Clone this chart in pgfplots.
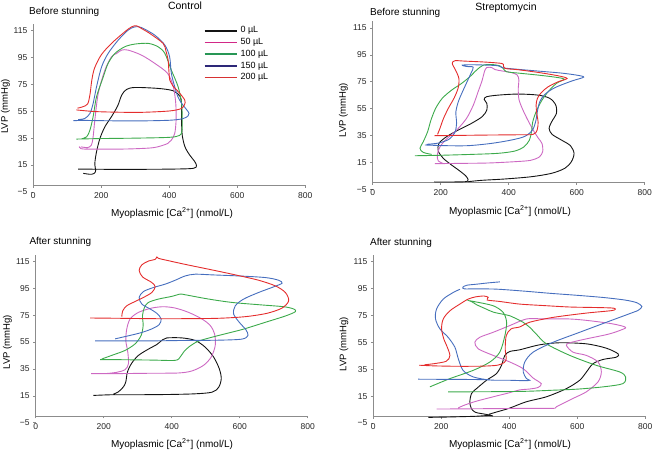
\documentclass[border=0pt]{standalone}
\usepackage{fontspec}
\setmainfont{Liberation Sans}
\usepackage{pgfplots}
\pgfplotsset{compat=1.18}
\definecolor{cBk}{RGB}{20,20,20}
\definecolor{cPk}{RGB}{205,105,195}
\definecolor{cGr}{RGB}{60,170,75}
\definecolor{cBl}{RGB}{70,110,190}
\definecolor{cRd}{RGB}{228,45,45}
\definecolor{lPk}{RGB}{210,40,135}
\definecolor{lGr}{RGB}{40,150,85}
\definecolor{lBl}{RGB}{45,40,120}
\definecolor{lRd}{RGB}{215,50,50}
\definecolor{axc}{RGB}{140,140,140}
\pgfplotsset{
  panel/.style={
    scale only axis, width=272pt, height=168pt,
    xmin=0, xmax=800, ymin=-5, ymax=120,
    axis x line=middle, axis y line=left,
    axis line style={axc,-},
    y axis line style={draw=none},
    hide obscured x ticks=false, hide obscured y ticks=false,
    xtick={0,200,400,600,800}, xticklabels={0,200,400,600,800},
    ytick={-5,15,35,55,75,95,115}, yticklabels={−5,15,35,55,75,95,115},
    tick style={axc, line width=0.5pt},
    tick align=outside, major tick length=2.5pt,
    ticklabel style={font=\fontsize{8.5}{10}\selectfont, text=black!85},
    xticklabel style={yshift=-1.5pt},
    /pgf/number format/assume math mode=true,
    every axis plot/.append style={line width=0.9pt, smooth, tension=0.5, no markers},
    clip=false,
  }
}
\begin{document}
\begin{tikzpicture}[x=1pt,y=1pt]
\useasboundingbox (0,0) rectangle (653,-450);
% ---------------- Panel 1: Control, before stunning
\begin{axis}[panel, at={(33.3pt,-191.9pt)}, anchor=south west]
\draw[axc, line width=0.5pt] (axis cs:0,0) -- (axis cs:0,120);
\addplot[cBk] coordinates {(132,12) (220,11.8) (318,11.8) (416,12) (470,12.5) (480,14.3) (475,17.5) (460,22.4) (446,28.6) (438,37.3) (436,48.5) (436,60.8) (431,66.3) (411,70.3) (367,72) (299,72.7) (274,71.2) (260,67) (248,58.9) (230,51) (210.6,43.5) (196,34.8) (186,24.9) (181,16.3) (183,10) (171.5,8.1) (147,8.8)};
\addplot[cPk] coordinates {(135,28.8) (140,27.2) (165,26.8) (269,26.9) (340,27.6) (367,28.6) (395,31) (406,33.5) (416,38.5) (420,48.5) (419,60.8) (412,73.2) (395,83.2) (357.5,90.6) (318,96.8) (279,100.5) (260,100.5) (245,98) (230,95.5) (210.6,85.6) (191,68.3) (181,48.5) (176,36) (171,29.9) (160,28) (140,28.5)};
\addplot[cGr] coordinates {(127,34.3) (200,34.7) (300,35) (400,35.6) (430,37) (437,40) (438,48.5) (436,60.8) (426,73.2) (406,85.6) (387,98) (367,103) (338,105.5) (299,105) (269,103) (240,98) (220,90.6) (206,80.7) (186,65.8) (176,51) (166.6,41) (157,36) (142,34.5)};
\addplot[cBl] coordinates {(117.6,48) (150,48.2) (200,48) (300,47.8) (400,48.3) (440,49.5) (455,51.5) (458,53.5) (450,56.5) (436,61) (425,66) (416,73.2) (406,83.2) (401,95.5) (387,104.2) (357.5,111.6) (318,117.3) (299,117.8) (279,115.4) (250,108) (220,98) (201,88.1) (186,73.2) (176,60.8) (166.6,53.4) (152,49.7) (132,48.8)};
\addplot[cRd] coordinates {(127,56) (180,54.8) (250,54.3) (318,54.2) (400,55.2) (435,57) (445,60) (445.5,63.3) (431,68.3) (410,74) (401.5,78) (398,88) (396.6,93) (390,100) (381.8,105.5) (342.6,112.9) (318,116.6) (303.6,118.6) (289,117.8) (269,114.1) (230,105.5) (200,97) (180,87) (172,78) (167,68) (160,60.5) (145,58.3) (130,57.3)};
% legend
\draw[cBk, line width=1.8pt] (axis cs:504,114.9) -- (axis cs:598,114.9);
\draw[lPk, line width=1.8pt] (axis cs:504,106.2) -- (axis cs:598,106.2);
\draw[lGr, line width=1.8pt] (axis cs:504,97.5) -- (axis cs:598,97.5);
\draw[lBl, line width=1.8pt] (axis cs:504,88.8) -- (axis cs:598,88.8);
\draw[lRd, line width=1.8pt] (axis cs:504,80.1) -- (axis cs:598,80.1);
\node[anchor=west, inner sep=0pt, font=\fontsize{9}{10}\selectfont] at (axis cs:609,114.9) {0 µL};
\node[anchor=west, inner sep=0pt, font=\fontsize{9}{10}\selectfont] at (axis cs:609,106.2) {50 µL};
\node[anchor=west, inner sep=0pt, font=\fontsize{9}{10}\selectfont] at (axis cs:609,97.5) {100 µL};
\node[anchor=west, inner sep=0pt, font=\fontsize{9}{10}\selectfont] at (axis cs:609,88.8) {150 µL};
\node[anchor=west, inner sep=0pt, font=\fontsize{9}{10}\selectfont] at (axis cs:609,80.1) {200 µL};
\end{axis}
% ---------------- Panel 2: Streptomycin, before stunning
\begin{axis}[panel, at={(372.7pt,-189.2pt)}, anchor=south west]
\draw[axc, line width=0.5pt] (axis cs:0,0) -- (axis cs:0,120);
\addplot[cBk] coordinates {(181.1,0.4) (241.7,0.4) (279,0.9) (276,4.3) (256.4,8.5) (232,13) (207.5,18) (192.8,23.4) (194.8,29.1) (217.3,34.1) (251.5,39) (290.7,44) (322,49) (335.7,53.9) (335.7,58.8) (328,61.8) (334.8,63.8) (369,65) (427.8,65.8) (486.5,65) (520.8,62.6) (538.4,57.6) (540.3,51.4) (527.6,45.7) (518.8,40.3) (527.6,35.8) (555,31.6) (581.5,27.4) (592.2,21.7) (584.4,15.5) (564.8,10.5) (525.7,6.8) (467,4.3) (388.6,2.6) (320,1.6) (281,0.6)};
\addplot[cPk] coordinates {(183,14) (250,14.2) (340,14.5) (420,15.5) (465,16.5) (490,19) (500,23) (498,29) (487,33) (472,39) (455,47) (440,55) (430,62) (428,70) (430,76) (425,80) (405,82) (380,83) (360,84) (350,85.5) (335,85.5) (328,82) (322,76) (310,67.5) (296,57.6) (276,47.7) (247,39) (217,32.3) (198,26.6) (190,20.4) (193,16) (207,14.2)};
\addplot[cGr] coordinates {(124.3,19.9) (192.8,20.2) (290.7,20.9) (369,21.7) (418,23.4) (445.4,26.6) (461,31.6) (467,37.8) (470.8,45.2) (480.6,52.6) (496.3,60.6) (515.9,67.5) (540.3,73.7) (562.9,76.9) (535.5,78.4) (486.5,79.9) (427.8,81.4) (393.5,82.4) (383.7,84.9) (373.9,86.8) (349.4,87.8) (325,87.3) (305.4,83.6) (285.8,78.7) (261.3,73.7) (232,68.7) (204.5,62.6) (185,55.1) (171.3,46.4) (161.5,37.8) (148.7,30.3) (139,25.4) (148.7,22.4) (173.2,20.9)};
\addplot[cBl] coordinates {(153.6,27.9) (212.4,27.4) (280.9,27.4) (349.4,29.1) (408.2,31.6) (447.3,34.3) (469.9,39) (479.6,45.7) (484.5,53.1) (491.4,60.1) (506.1,65.5) (535.5,70.5) (584.4,75.4) (620.6,78.4) (599.1,79.9) (555,81.4) (486.5,82.9) (418,84.4) (383.7,85.3) (369,86.8) (339.7,87.3) (290.7,87.6) (263.3,87.3) (276,86.3) (295.6,85.8) (288.7,81.1) (273.1,72.5) (253.5,61.3) (244.7,52.6) (246.7,44) (241.8,37.3) (224.1,32.1) (192.8,29.3) (158.5,28.4)};
\addplot[cRd] coordinates {(181.1,34.8) (241.8,35) (339.7,35.3) (427.8,35.5) (471.8,35.8) (483.6,39) (486.5,44.7) (482.6,51.4) (480.6,57.6) (484.5,62.6) (496.3,67) (515.9,71.2) (545.2,74.9) (571.7,77.4) (545.2,79.4) (486.5,81.9) (427.8,83.9) (388.6,84.9) (384.7,87.3) (378.8,88.6) (329.9,89.6) (271.1,90.3) (241.8,90.6) (233.9,88.6) (243.7,83.6) (253.5,77.4) (251.5,70.5) (239.8,63) (222.2,55.1) (207.5,47.2) (197.7,40.2) (190.8,35.8)};
\end{axis}
% ---------------- Panel 3: Control, after stunning
\begin{axis}[panel, at={(35.7pt,-422.7pt)}, anchor=south west]
\draw[axc, line width=0.5pt] (axis cs:0,0) -- (axis cs:0,120);
\addplot[cBk] coordinates {(169.7,15.3) (223.7,15.8) (292.5,15.8) (390.7,16) (469.2,16.5) (518.3,17.7) (537.9,21.2) (545.8,27.8) (539.9,35.2) (523.2,43.9) (498.6,51.2) (469.2,56.2) (429.9,58.1) (385.7,58.1) (373,56.7) (356.3,53.2) (331.7,49.8) (302.3,45.1) (282.7,39.4) (269.9,32.8) (265,25.4) (258.1,21.7) (243.4,18) (228.7,16.3)};
\addplot[cPk] coordinates {(162.9,31.5) (223.7,31.5) (341.6,31.8) (420.1,32) (459.4,33.5) (493.7,37.7) (516.3,43.9) (528.1,52.5) (526.1,61.1) (513.4,67.3) (488.8,72.2) (449.6,77.1) (410.3,80.3) (376,81.3) (341.6,80.3) (302.3,77.1) (277.7,72.2) (267.9,64.8) (265,56.2) (270.9,47.5) (272.8,38.9) (263,34.5) (238.5,32.5) (204.1,31.5)};
\addplot[cGr] coordinates {(189.4,41.9) (243.4,41.9) (341.6,41.6) (410.3,41.4) (425,43.9) (434.8,47.5) (449.6,51.2) (479,55.7) (537.9,59.9) (606.6,64.3) (675.4,69.7) (734.3,74.4) (763.7,77.6) (758.8,79.6) (729.4,81.3) (655.8,82.8) (577.2,84.5) (508.5,87) (439.7,90.2) (425,90.7) (400.5,89) (361.2,87) (331.7,84.5) (320,80.8) (314.1,74.7) (316,67.3) (310.1,59.9) (292.5,53.7) (263,48.8) (223.7,45.1) (194.3,42.4)};
\addplot[cBl] coordinates {(174.7,55.9) (243.4,55.9) (341.6,55.9) (439.7,56.2) (537.9,56.4) (606.6,57.2) (624.3,59.9) (618.4,64.1) (598.8,69.7) (582.1,75.9) (587,82) (611.6,87) (655.7,91.9) (699.9,96.1) (724.5,98.8) (714.6,101) (675.4,103) (596.8,104.2) (518.3,105) (469.2,105.5) (439.7,104.2) (410.3,101) (380.8,98.1) (346.5,95.6) (317,92.6) (304.3,88.2) (312.1,83.3) (336.7,79.6) (356.3,76.4) (369,72.2) (363.2,68) (341.6,64.8) (307.2,61.8) (263,59.1) (233.6,57.4)};
\addplot[cRd] coordinates {(159.9,72.9) (243.4,72.7) (341.6,72.4) (439.7,72.4) (537.9,72.7) (616.5,73.9) (680.3,76.4) (724.5,80.3) (744.1,85.7) (734.3,91.9) (704.8,96.8) (655.7,101) (587,105) (518.3,108.7) (439.7,112.8) (380.8,116.1) (361.2,117.3) (356.3,118.3) (351.4,116.5) (331.7,115.3) (312.1,112.4) (304.3,108.4) (314.1,103.5) (341.6,99.3) (351.4,96.1) (341.6,91.9) (317,88.2) (292.5,85.2) (267.9,82) (256.1,78.3) (253.2,73.9)};
\end{axis}
% ---------------- Panel 4: Streptomycin, after stunning
\begin{axis}[panel, at={(373.3pt,-423pt)}, anchor=south west]
\draw[axc, line width=0.5pt] (axis cs:0,0) -- (axis cs:0,120);
\addplot[cBk] coordinates {(162,-0.8) (210,-0.6) (255,-0.3) (300,0) (340,0.6) (352,0.2) (330,1.5) (300,3) (288,6) (284,10.8) (289,17) (303.6,20.6) (333,26.8) (362,31.7) (377,37.9) (387,45.3) (401.5,48.2) (431,49.5) (489.5,53.2) (548,54.7) (627,53.9) (685,50.7) (720,46.5) (715,44) (676,42.3) (646,39.1) (627,33) (607,26.8) (568,20.6) (509,14.5) (450,10.8) (400,6) (360,3) (340,1.5)};
\addplot[cPk] coordinates {(186,5.4) (250,5.5) (350,5.7) (450,5.9) (529,5.9) (538.5,7.1) (587.5,13.3) (626.6,18.2) (661,25.6) (670.7,33) (661,40.4) (626.6,45.3) (587.5,47.7) (568,52.7) (578,54.7) (626.6,57.6) (690,61) (724.5,63.8) (742,66.2) (705,68.7) (640,71) (578,72.4) (500,72.5) (450.5,72.4) (401.5,67.5) (352.6,62.5) (313.4,58.8) (298.7,55.1) (308.5,50.2) (352.6,45.3) (401.5,40.4) (440.7,35.4) (470,28.5) (494,24.3) (485,21.5) (460,20.3) (430,19.6) (400,17.5) (352.6,14.5) (300,11) (265,8) (250,6.2)};
\addplot[cGr] coordinates {(166.5,21.9) (225,28) (294,34.2) (343,40.4) (372,47.7) (387,60) (392,70) (382,77.3) (353,82.2) (304,85) (282,86) (290,85.2) (304,83) (330,80) (353,77.5) (380,76) (401.5,74.8) (425,72) (441,69.9) (460,66.2) (480,61) (509,53.9) (578,45.3) (656,37.9) (724.5,33) (742,29.3) (734,24.3) (676,21.9) (600,20.2) (529,19.4) (450,18.6) (350,18.3) (260,18.2) (220,18.2)};
\addplot[cBl] coordinates {(372,100) (340,99.3) (304,98.3) (275,97.5) (263,96) (268,94.8) (300,94.8) (362,94.6) (440,93.2) (520,91.5) (600,90) (676,88.4) (740,86.5) (775,84.5) (790,81.7) (780,79) (764,77.3) (685,69.9) (607,62.5) (529,55.1) (470,47.7) (445.5,40.4) (441,33) (450.4,28.1) (460,26.8) (445,26.5) (400,26.8) (343,27) (294,29.3) (264,34.2) (250,42.8) (240,51.4) (220,58.8) (196,65) (183,72.4) (186,79.8) (205.7,87.2) (235,92.1) (255,94.5)};
\addplot[cBl] coordinates {(132,27.6) (200,27.5) (280,27.4) (343,27.2)};
\addplot[cRd] coordinates {(135,38) (180,37.5) (250,37.2) (320,37.3) (365,38) (385,40) (391,43) (388,50) (391,60) (405,65) (431,66.5) (460,70) (529,73.6) (627,76.8) (700,78.6) (712,79.8) (700,80.6) (640,81) (578,81.3) (500,82.4) (430,83.5) (370,85.5) (335,86.5) (338,88.5) (325,89.5) (300,88.8) (279,87.2) (254.7,83.5) (225.3,78.5) (205.7,72.4) (200.8,65) (208,57) (215.5,52.7) (225.3,45.3) (215,41) (180,39.2) (150,38.3)};
\end{axis}
% ---------------- texts
\node[anchor=base west, inner sep=0pt, font=\fontsize{10}{12}\selectfont] at (29,-14.2) {Before stunning};
\node[anchor=base, inner sep=0pt, font=\fontsize{10.5}{12}\selectfont] at (185,-9.2) {Control};
\node[anchor=base west, inner sep=0pt, font=\fontsize{10}{12}\selectfont] at (370,-15) {Before stunning};
\node[anchor=base, inner sep=0pt, font=\fontsize{10.5}{12}\selectfont] at (506,-10) {Streptomycin};
\node[anchor=base west, inner sep=0pt, font=\fontsize{10}{12}\selectfont] at (29.3,-244.5) {After stunning};
\node[anchor=base west, inner sep=0pt, font=\fontsize{10}{12}\selectfont] at (370,-245) {After stunning};
\node[anchor=base, inner sep=0pt, font=\fontsize{10}{12}\selectfont] at (172,-216) {Myoplasmic [Ca\textsuperscript{2+}] (nmol/L)};
\node[anchor=base, inner sep=0pt, font=\fontsize{10}{12}\selectfont] at (510,-214) {Myoplasmic [Ca\textsuperscript{2+}] (nmol/L)};
\node[anchor=base, inner sep=0pt, font=\fontsize{10}{12}\selectfont] at (172,-447.5) {Myoplasmic [Ca\textsuperscript{2+}] (nmol/L)};
\node[anchor=base, inner sep=0pt, font=\fontsize{10}{12}\selectfont] at (510,-447.5) {Myoplasmic [Ca\textsuperscript{2+}] (nmol/L)};
\node[rotate=90, inner sep=0pt, font=\fontsize{9.5}{11}\selectfont] at (5.5,-106.5) {LVP (mmHg)};
\node[rotate=90, inner sep=0pt, font=\fontsize{9.5}{11}\selectfont] at (343.5,-110) {LVP (mmHg)};
\node[rotate=90, inner sep=0pt, font=\fontsize{9.5}{11}\selectfont] at (7.3,-342) {LVP (mmHg)};
\node[rotate=90, inner sep=0pt, font=\fontsize{9.5}{11}\selectfont] at (344,-344) {LVP (mmHg)};
\end{tikzpicture}
\end{document}
